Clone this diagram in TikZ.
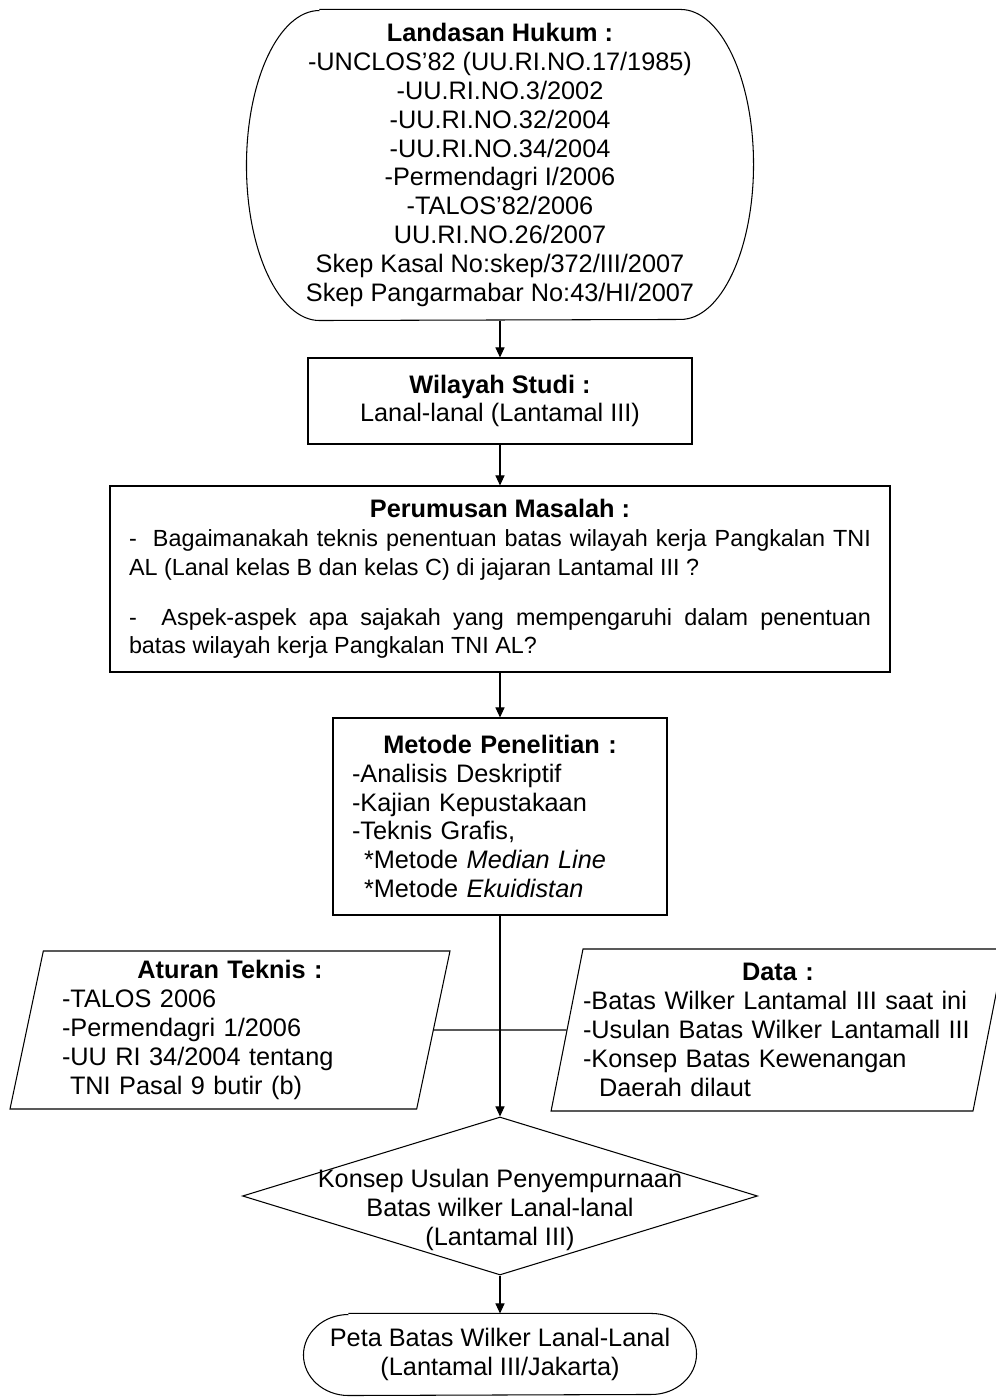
\documentclass[tikz,border=0pt]{standalone}
\usepackage{fontspec}
\setmainfont{Liberation Sans}
\usetikzlibrary{arrows.meta, shapes.geometric}

\begin{document}
\begin{tikzpicture}[font=\fontsize{14.4}{16.4}\selectfont, line width=0.6pt,
	box/.style={draw, rectangle, inner sep=0pt},
	terminal/.style={rectangle, inner sep=0pt, align=center},
	inout/.style={draw, trapezium, trapezium left angle=76.5, trapezium right angle=103.5, trapezium stretches body, inner sep=0pt, align=left},
	decision/.style={draw, diamond, inner sep=0pt},
	flow/.style={-{Triangle[length=2mm, width=1.8mm]}}]
	\useasboundingbox (0,0) rectangle (19.92,27.94);
	\node[terminal, minimum width=10.12cm, minimum height=6.2cm] (landasan) at (10,24.64) {{\bfseries Landasan Hukum :}\\-UNCLOS'82 (UU.RI.NO.17/1985)\\-UU.RI.NO.3/2002\\-UU.RI.NO.32/2004\\-UU.RI.NO.34/2004\\-Permendagri I/2006\\-TALOS'82/2006\\UU.RI.NO.26/2007\\Skep Kasal No:skep/372/III/2007\\Skep Pangarmabar No:43/HI/2007};
	\draw ([xshift=1.46cm]landasan.north west) -- ([xshift=-1.46cm]landasan.north east) arc[start angle=90, end angle=-90, x radius=1.46cm, y radius=3.1cm] -- ([xshift=1.46cm]landasan.south west) arc[start angle=270, end angle=90, x radius=1.46cm, y radius=3.1cm];
	\node[box, minimum width=7.68cm, minimum height=1.72cm, align=center] (wilayah) at (10,19.92) {{\bfseries Wilayah Studi :}\\Lanal-lanal (Lantamal III)};
	\node[box, minimum width=15.6cm, minimum height=3.72cm, text width=14.84cm, align=justify] (perumusan) at (10,16.36) {{\centering\bfseries Perumusan Masalah :\par}
		{\fontsize{13.3}{16.4}\selectfont -\ \ Bagaimanakah teknis penentuan batas wilayah kerja Pangkalan TNI\linebreak AL (Lanal kelas B dan kelas C) di jajaran Lantamal III ?\par\vspace{0.42cm}
		-\ \ Aspek-aspek apa sajakah yang mempengaruhi dalam penentuan\linebreak batas wilayah kerja Pangkalan TNI AL?\par}};
	\node[box, minimum width=6.68cm, minimum height=3.94cm, text width=5.92cm, align=left] (metode) at (10,11.61) {\centerline{\bfseries Metode Penelitian :}
		-Analisis Deskriptif\\-Kajian Kepustakaan\\-Teknis Grafis,\\\hspace*{0.24cm}*Metode \textit{Median Line}\\\hspace*{0.24cm}*Metode \textit{Ekuidistan}};
	\node[inout, minimum width=8.8cm, minimum height=3.16cm, text width=6.72cm] (aturan) at (4.6,7.34) {\centerline{\bfseries Aturan Teknis :}
		-TALOS 2006\\-Permendagri 1/2006\\-UU RI 34/2004 tentang\\\hspace*{0.16cm}TNI Pasal 9 butir (b)};
	\node[inout, minimum width=8.68cm, minimum height=3.24cm, text width=7.8cm] (data) at (15.56,7.34) {\centerline{\bfseries Data :}
		-Batas Wilker Lantamal III saat ini\\-Usulan Batas Wilker Lantamall III\\-Konsep Batas Kewenangan\\\hspace*{0.32cm}Daerah dilaut};
	\node[decision, minimum width=10.3cm, minimum height=3.16cm, label={[name=konsep-text, align=center, yshift=-0.28cm]center:Konsep Usulan Penyempurnaan\\Batas wilker Lanal-lanal\\(Lantamal III)}] (konsep) at (10,4.02) {};
	\node[terminal, minimum width=7.84cm, minimum height=1.62cm] (peta) at (10,0.85) {Peta Batas Wilker Lanal-Lanal\\(Lantamal III/Jakarta)};
	\draw ([xshift=0.9cm]peta.north west) -- ([xshift=-0.9cm]peta.north east) arc[start angle=90, end angle=-90, x radius=0.9cm, y radius=0.81cm] -- ([xshift=0.9cm]peta.south west) arc[start angle=270, end angle=90, x radius=0.9cm, y radius=0.81cm];
	\draw[flow] (landasan) -- (wilayah);
	\draw[flow] (wilayah) -- (perumusan);
	\draw[flow] (perumusan) -- (metode);
	\draw[flow] (metode) -- (konsep);
	\draw (aturan) -- (data);
	\draw[flow] (konsep) -- (peta);
\end{tikzpicture}
\end{document}
